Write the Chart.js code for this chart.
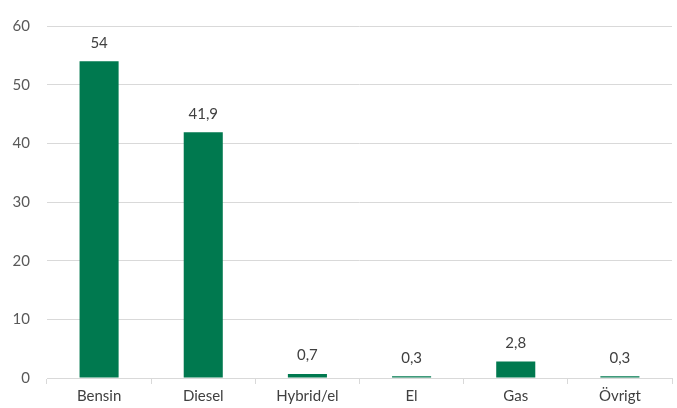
<!DOCTYPE html>
<html>
<head>
<meta charset="utf-8">
<script src="https://cdn.jsdelivr.net/npm/chart.js@4"></script>
<style>
  html, body { margin: 0; padding: 0; background: #fff; }
  #wrap { width: 677px; height: 408px; position: relative; }
</style>
</head>
<body>
<div id="wrap"><canvas id="fuelChart"></canvas></div>
<script>
// ====== DATA ======
const categories = ['Bensin', 'Diesel', 'Hybrid/el', 'El', 'Gas', 'Övrigt'];
const shares = [54, 41.9, 0.7, 0.3, 2.8, 0.3];
const yTicks = [0, 10, 20, 30, 40, 50, 60];

const FONT = "Lato, 'Open Sans', sans-serif";

// labels above bars, Swedish decimal comma
const valueLabels = {
    id: 'valueLabels',
    afterDatasetsDraw(chart) {
        const ctx = chart.ctx;
        ctx.save();
        ctx.font = `15px ${FONT}`;
        ctx.fillStyle = '#404040';
        ctx.textAlign = 'center';
        ctx.textBaseline = 'bottom';
        const meta = chart.getDatasetMeta(0);
        meta.data.forEach((bar, i) => {
            const txt = String(shares[i]).replace('.', ',');
            ctx.fillText(txt, bar.x, bar.y - 11);
        });
        ctx.restore();
    }
};

new Chart(document.getElementById('fuelChart').getContext('2d'), {
    type: 'bar',
    data: {
        labels: categories,
        datasets: [{
            data: shares,
            backgroundColor: '#00794F',
            categoryPercentage: 1,
            barPercentage: 0.375
        }]
    },
    options: {
        responsive: true,
        maintainAspectRatio: false,
        animation: false,
        layout: { padding: { top: 14, right: 5, left: 0, bottom: 0 } },
        plugins: { legend: { display: false }, tooltip: { enabled: false } },
        scales: {
            x: {
                grid: { offset: true, drawOnChartArea: false, color: '#d9d9d9', tickLength: 6 },
                border: { display: true, color: '#d9d9d9' },
                ticks: { color: '#404040', font: { family: FONT, size: 15 }, padding: 3 },
                afterFit: (scale) => { scale.height = 30; }
            },
            y: {
                min: 0,
                max: 60,
                afterBuildTicks: (scale) => { scale.ticks = yTicks.map(v => ({ value: v })); },
                grid: { color: '#d9d9d9', drawTicks: false },
                border: { display: false },
                ticks: { color: '#595959', font: { family: FONT, size: 15 }, padding: 17 },
                afterFit: (scale) => { scale.width = 47; }
            }
        }
    },
    plugins: [valueLabels]
});
</script>
</body>
</html>
